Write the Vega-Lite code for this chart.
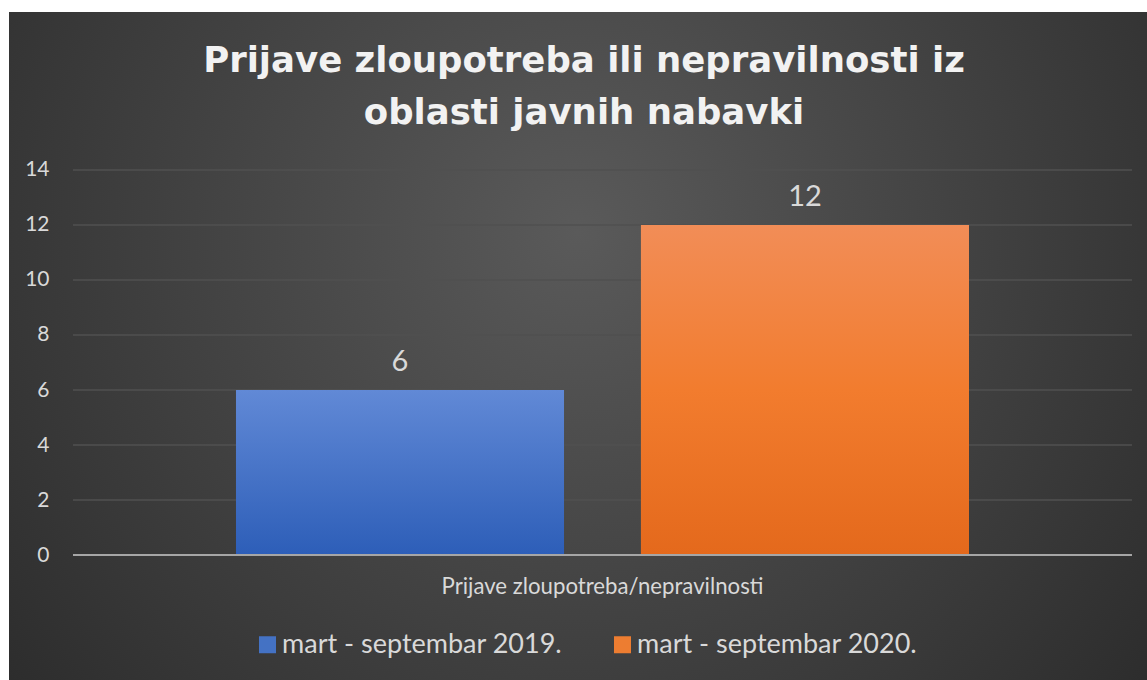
{
  "$schema": "https://vega.github.io/schema/vega-lite/v6.json",
  "width": 1138,
  "height": 668,
  "autosize": {"type": "none"},
  "padding": {"left": 9, "top": 12, "right": 0, "bottom": 0},
  "background": "#ffffff",
  "view": {
    "stroke": null,
    "fill": {
      "gradient": "radial",
      "x1": 0.5, "y1": 0.4, "r1": 0,
      "x2": 0.5, "y2": 0.4, "r2": 0.72,
      "stops": [
        {"offset": 0, "color": "#5a5a5a"},
        {"offset": 1, "color": "#272727"}
      ]
    }
  },
  "title": {
    "text": ["Prijave zloupotreba ili nepravilnosti iz", "oblasti javnih nabavki"],
    "orient": "top",
    "anchor": "middle",
    "frame": "group",
    "baseline": "top",
    "offset": -119,
    "dx": 6,
    "font": "DejaVu Sans",
    "fontWeight": "bold",
    "fontSize": 35.5,
    "lineHeight": 52,
    "color": "#f2f2f2"
  },
  "datasets": {
    "bars": [
      {"kategorija": "Prijave zloupotreba/nepravilnosti", "period": "mart - septembar 2019.", "broj": 6},
      {"kategorija": "Prijave zloupotreba/nepravilnosti", "period": "mart - septembar 2020.", "broj": 12}
    ],
    "grid": [
      {"kategorija": "Prijave zloupotreba/nepravilnosti", "v": 0},
      {"kategorija": "Prijave zloupotreba/nepravilnosti", "v": 2},
      {"kategorija": "Prijave zloupotreba/nepravilnosti", "v": 4},
      {"kategorija": "Prijave zloupotreba/nepravilnosti", "v": 6},
      {"kategorija": "Prijave zloupotreba/nepravilnosti", "v": 8},
      {"kategorija": "Prijave zloupotreba/nepravilnosti", "v": 10},
      {"kategorija": "Prijave zloupotreba/nepravilnosti", "v": 12},
      {"kategorija": "Prijave zloupotreba/nepravilnosti", "v": 14}
    ]
  },
  "resolve": {"scale": {"y": "shared", "x": "shared"}},
  "layer": [
    {
      "data": {"name": "grid"},
      "transform": [{"filter": "datum.v > 0"}],
      "mark": {"type": "bar", "fill": null, "stroke": "#505050", "strokeWidth": 1.5},
      "encoding": {
        "x": {
          "field": "kategorija", "type": "nominal",
          "scale": {"paddingInner": 0, "paddingOuter": 0.0373, "align": 0.81},
          "axis": {
            "orient": "bottom", "offset": -125, "title": null, "domain": false,
            "ticks": false, "tickSize": 0, "grid": false, "labelPadding": 20, "labelLimit": 600,
            "labelFont": "Lato", "labelFontSize": 22.2, "labelColor": "#d9d9d9", "labelAngle": 0
          }
        },
        "y": {
          "field": "v", "type": "quantitative",
          "scale": {"domain": [-4.545, 19.745], "nice": false, "zero": false},
          "axis": {
            "values": [0, 2, 4, 6, 8, 10, 12, 14], "title": null, "grid": false,
            "domain": false, "ticks": false, "tickSize": 0, "offset": -40, "labelPadding": 0,
            "labelFont": "Lato", "labelFontSize": 21, "labelColor": "#d9d9d9"
          }
        },
        "y2": {"field": "v"}
      }
    },
    {
      "data": {"name": "bars"},
      "mark": {"type": "bar"},
      "encoding": {
        "x": {"field": "kategorija", "type": "nominal"},
        "xOffset": {
          "field": "period", "type": "nominal",
          "scale": {"paddingInner": 0.19, "paddingOuter": 0.4025, "align": 0.5}
        },
        "y": {"field": "broj", "type": "quantitative"},
        "y2": {"datum": 0},
        "color": {
          "field": "period", "type": "nominal",
          "scale": {"range": ["#4472c4", "#ed7d31"]},
          "legend": {
            "orient": "none", "legendX": 245, "legendY": 619, "direction": "horizontal",
            "title": null, "symbolType": "square", "symbolSize": 289, "symbolStrokeWidth": 0,
            "labelFont": "Lato", "labelFontSize": 27, "labelColor": "#d9d9d9", "labelLimit": 600,
            "labelOffset": 1, "columnPadding": 46, "padding": 0
          }
        }
      }
    },
    {
      "data": {"name": "bars"},
      "transform": [{"filter": "datum.broj === 6"}],
      "mark": {
        "type": "bar",
        "fill": {
          "gradient": "linear", "x1": 0, "y1": 0, "x2": 0, "y2": 1,
          "stops": [{"offset": 0, "color": "#6189d6"}, {"offset": 1, "color": "#2d5eb8"}]
        }
      },
      "encoding": {
        "x": {"field": "kategorija", "type": "nominal"},
        "xOffset": {"field": "period", "type": "nominal"},
        "y": {"field": "broj", "type": "quantitative"},
        "y2": {"datum": 0}
      }
    },
    {
      "data": {"name": "bars"},
      "transform": [{"filter": "datum.broj === 12"}],
      "mark": {
        "type": "bar",
        "fill": {
          "gradient": "linear", "x1": 0, "y1": 0, "x2": 0, "y2": 1,
          "stops": [{"offset": 0, "color": "#f28d57"}, {"offset": 0.5, "color": "#f27c2e"}, {"offset": 1, "color": "#e4691c"}]
        }
      },
      "encoding": {
        "x": {"field": "kategorija", "type": "nominal"},
        "xOffset": {"field": "period", "type": "nominal"},
        "y": {"field": "broj", "type": "quantitative"},
        "y2": {"datum": 0}
      }
    },
    {
      "data": {"name": "grid"},
      "transform": [{"filter": "datum.v === 0"}],
      "mark": {"type": "bar", "fill": null, "stroke": "#a6a6a6", "strokeWidth": 2},
      "encoding": {
        "x": {"field": "kategorija", "type": "nominal"},
        "y": {"field": "v", "type": "quantitative"},
        "y2": {"field": "v"}
      }
    },
    {
      "data": {"name": "bars"},
      "mark": {"type": "text", "font": "Lato", "fontSize": 29, "color": "#d9d9d9", "baseline": "alphabetic", "dy": -19},
      "encoding": {
        "x": {"field": "kategorija", "type": "nominal"},
        "xOffset": {"field": "period", "type": "nominal"},
        "y": {"field": "broj", "type": "quantitative"},
        "text": {"field": "broj", "type": "quantitative"}
      }
    }
  ]
}
